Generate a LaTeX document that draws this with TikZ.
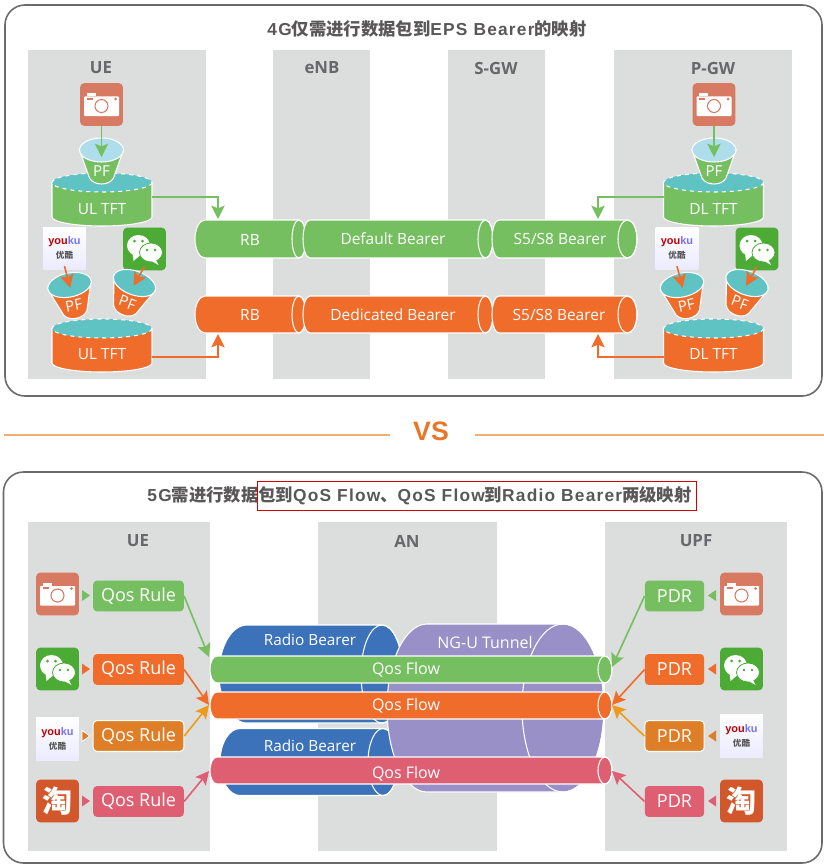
\documentclass[tikz,border=0pt]{standalone}
\usepackage{fontspec}
\setmainfont{Open Sans}
\newfontfamily\cjk{Noto Sans CJK SC}
\newfontfamily\titlefont[LetterSpace=7]{Liberation Sans}
\newfontfamily\plainhead{Liberation Sans}
\usetikzlibrary{arrows.meta,calc}
\definecolor{panelgray}{HTML}{DCDDDD}
\definecolor{framegray}{HTML}{6B6B6B}
\definecolor{textgray}{HTML}{595757}
\definecolor{headgray}{HTML}{66686A}
\definecolor{flowgreen}{HTML}{75BF60}
\definecolor{floworange}{HTML}{EF6C2B}
\definecolor{flowamber}{HTML}{DE7E26}
\definecolor{arrowamber}{HTML}{EE9B1D}
\definecolor{flowpink}{HTML}{DF5F72}
\definecolor{bearerblue}{HTML}{3B72B9}
\definecolor{tunnelpurple}{HTML}{9890C6}
\definecolor{topteal}{HTML}{5FC2C3}
\definecolor{toplight}{HTML}{AEDDEC}
\definecolor{camcolor}{HTML}{D87962}
\definecolor{wxcolor}{HTML}{4BAB35}
\definecolor{taocolor}{HTML}{D2572B}
\definecolor{vsline}{HTML}{F2AE72}
\definecolor{vscolor}{HTML}{E8772A}
\tikzset
{
  panel/.style={fill=panelgray,draw=none},
  frame/.style={draw=framegray,line width=1.2pt,rounded corners=15pt},
  headlabel/.style={font=\bfseries\fontsize{12.6}{13}\selectfont,text=headgray},
  pipeedge/.style={draw=white,line width=0.8pt},
  pipelabel/.style={font=\fontsize{11.6}{12}\selectfont,text=white},
  iconbox/.style={minimum size=32pt,inner sep=0pt,rounded corners=3pt},
  rulebox/.style={minimum width=68pt,minimum height=23.2pt,inner sep=0pt,rounded corners=3pt,text=white,font=\fontsize{13.5}{14}\selectfont},
  pdrbox/.style={rulebox,minimum width=44.5pt},
  flowarrow/.style={line width=1.2pt,-{Stealth[length=10pt,width=10pt,inset=2pt]}}
}
% tube lying on its side: x1, x2, middle y, y radius, left x radius, right x radius, colour
\newcommand{\hpipe}[7]{
  \filldraw[pipeedge,fill=#7] ({#1+#5},{#3-#4}) -- ({#2-#6},{#3-#4})
    arc[start angle=-90,end angle=90,x radius=#6,y radius=#4]
    -- ({#1+#5},{#3+#4})
    arc[start angle=90,end angle=270,x radius=#5,y radius=#4] -- cycle;
  \draw[pipeedge] ({#2-#6},#3) ellipse[x radius=#6,y radius=#4];
}
% drum: centre x, top ellipse y, lower y, colour
\newcommand{\tftdrum}[4]{
  \filldraw[pipeedge,fill=#4] ({#1-50},#2) -- ({#1-50},#3)
    arc[start angle=180,end angle=0,x radius=50,y radius=9]
    -- ({#1+50},#2) -- cycle;
  \fill[topteal] (#1,#2) ellipse[x radius=50,y radius=9.5];
  \draw[white,line width=0.8pt,dashed] (#1,#2) ellipse[x radius=50,y radius=9.5];
}
% cup: name, x, y, angle, body colour, top colour
\newcommand{\pfcup}[6]{
  \begin{scope}[shift={(#2,#3)},rotate=#4]
    \filldraw[pipeedge,fill=#5] (-22,0) -- (-12,28) .. controls (-8,36) and (8,36) .. (12,28) -- (22,0) -- cycle;
    \filldraw[pipeedge,fill=#6] (0,0) ellipse[x radius=22,y radius=12];
    \node[transform shape,text=white,font=\fontsize{11.3}{12}\selectfont] (#1txt) at (0,21) {PF};
    \coordinate (#1) at (0,3);
  \end{scope}
}
\newcommand{\iconcam}[3]{
  \node[iconbox,fill=camcolor] (#1) at (#2,#3) {};
  \begin{scope}[shift={(#2,#3)}]
    \fill[white,rounded corners=0.6pt] (-17.5,-8) rectangle (17.5,11.5);
    \fill[white] (-15,-11) rectangle (-6,-8);
    \draw[camcolor,line width=0.8pt,fill=white] (0,1.5) circle[radius=6.5];
    \fill[camcolor] (-15,-7) rectangle (-9,-5);
    \fill[camcolor] (14,-5.5) circle[radius=1.5];
  \end{scope}
}
\newcommand{\iconwx}[3]{
  \node[iconbox,fill=wxcolor] (#1) at (#2,#3) {};
  \begin{scope}[shift={(#2,#3)}]
    \fill[white] (-6,-3.5) ellipse[x radius=11.5,y radius=10.5];
    \fill[white] (-12,4) -- (-11,12) -- (-4,6) -- cycle;
    \filldraw[draw=wxcolor,line width=0.6pt,fill=white] (6.5,3.5) ellipse[x radius=11.5,y radius=9.5];
    \fill[white] (11,10) -- (14,16) -- (7,12) -- cycle;
    \fill[wxcolor] (-10,-8) circle[radius=1.5] (-2,-8) circle[radius=1.5] (2.5,1) circle[radius=1.3] (10.5,1) circle[radius=1.3];
  \end{scope}
}
\newcommand{\iconyk}[3]{
  \node[minimum size=32pt,inner sep=0pt,top color=white,bottom color=blue!8] (#1) at (#2,#3) {};
  \node[font=\plainhead\bfseries\fontsize{8.2}{8}\selectfont] (#1txt) at (#2,{#3-6.5}) {\textcolor{red!75!black}{you}\textcolor{blue!55}{ku}};
  \node[font=\cjk\bfseries\fontsize{6.4}{7}\selectfont,text=textgray] (#1zh) at (#2,{#3+7}) {优酷};
}
\newcommand{\icontao}[3]{
  \node[iconbox,fill=taocolor,text=white,font=\cjk\bfseries\fontsize{22.5}{23}\selectfont] (#1) at (#2,#3) {淘};
}
\begin{document}
\begin{tikzpicture}[x=0.75pt,y=-0.75pt]
  \useasboundingbox (0,0) rectangle (824,867);

  % Upper frame and columns
  \draw[frame] (5,5) rectangle (822,396);
  \node[text=textgray,font=\titlefont\bfseries\fontsize{13}{13}\selectfont] (titlefour) at (427,29) {4G\cjk 仅需进行数据包到\titlefont EPS Bearer\cjk 的映射};
  \fill[panel] (28,50) rectangle (206,379);
  \fill[panel] (273,50) rectangle (370,379);
  \fill[panel] (448,50) rectangle (545,379);
  \fill[panel] (614,50) rectangle (792,379);
  \node[headlabel] (ueup) at (101,68) {UE};
  \node[headlabel] (enb) at (322,68) {eNB};
  \node[headlabel] (sgw) at (496,68) {S-GW};
  \node[headlabel] (pgw) at (713,68) {P-GW};

  % Bearers
  \hpipe{195}{306}{239}{19}{10}{7}{flowgreen}
  \hpipe{303}{493}{239}{19}{7}{7.5}{flowgreen}
  \hpipe{492}{637}{239}{19}{7}{9.5}{flowgreen}
  \hpipe{195}{306}{314.5}{18.5}{10}{7}{floworange}
  \hpipe{303}{493}{314.5}{18.5}{7}{7.5}{floworange}
  \hpipe{492}{637}{314.5}{18.5}{7}{9.5}{floworange}
  \node[pipelabel] (rbg) at (250,239.5) {RB};
  \node[pipelabel] (dflt) at (393,239) {Default Bearer};
  \node[pipelabel] (sgg) at (560,239) {S5/S8 Bearer};
  \node[pipelabel] (rbo) at (250,315) {RB};
  \node[pipelabel] (ded) at (393,315) {Dedicated Bearer};
  \node[pipelabel] (sgo) at (559,315) {S5/S8 Bearer};

  % UE side
  \tftdrum{102}{182.5}{217}{flowgreen}
  \tftdrum{102}{328.5}{363}{floworange}
  \node[pipelabel] (ulg) at (102,209) {UL TFT};
  \node[pipelabel] (ulo) at (102,354) {UL TFT};
  \iconcam{camul}{101.5}{104.5}
  \iconyk{ykul}{64.5}{248.5}
  \iconwx{wxul}{144.5}{249}
  \pfcup{pfulg}{101.5}{150}{0}{flowgreen}{toplight}
  \pfcup{pfula}{69.5}{285}{12}{floworange}{topteal}
  \pfcup{pfulb}{134.5}{283}{-20}{floworange}{topteal}
  \draw[flowarrow,flowgreen,shorten >=-3pt] (camul) -- (pfulg);
  \draw[flowarrow,floworange] ([yshift=3pt]ykul.south) -- (pfula);
  \draw[flowarrow,floworange] ([yshift=3pt]wxul.south) -- (pfulb);

  % P-GW side
  \tftdrum{713.5}{182.5}{217}{flowgreen}
  \tftdrum{713.5}{328.5}{363}{floworange}
  \node[pipelabel] (dlg) at (713.5,209) {DL TFT};
  \node[pipelabel] (dlo) at (713.5,354) {DL TFT};
  \iconcam{camdl}{714}{104.5}
  \iconyk{ykdl}{677}{248.5}
  \iconwx{wxdl}{757}{249}
  \pfcup{pfdlg}{714}{150}{0}{flowgreen}{toplight}
  \pfcup{pfdla}{682}{285}{12}{floworange}{topteal}
  \pfcup{pfdlb}{747}{283}{-20}{floworange}{topteal}
  \draw[flowarrow,flowgreen,shorten >=-3pt] (camdl) -- (pfdlg);
  \draw[flowarrow,floworange] ([yshift=3pt]ykdl.south) -- (pfdla);
  \draw[flowarrow,floworange] ([yshift=3pt]wxdl.south) -- (pfdlb);

  % TFT to bearer
  \coordinate (ulgout) at (152,197);
  \coordinate (rbgin) at (218,219);
  \coordinate (uloout) at (152,357);
  \coordinate (rboin) at (218,334);
  \coordinate (dlgout) at (664,197);
  \coordinate (sggin) at (598,219);
  \coordinate (dloout) at (664,357);
  \coordinate (sgoin) at (598,334);
  \draw[flowarrow,flowgreen] (ulgout) -| (rbgin);
  \draw[flowarrow,floworange] (uloout) -| (rboin);
  \draw[flowarrow,flowgreen] (dlgout) -| (sggin);
  \draw[flowarrow,floworange] (dloout) -| (sgoin);

  % VS
  \node[text=vscolor,font=\plainhead\bfseries\fontsize{20}{20}\selectfont] (vs) at (431,431) {VS};
  \coordinate (vsa) at (4,435);
  \coordinate (vsb) at (390,435);
  \coordinate (vsc) at (475,435);
  \coordinate (vsd) at (824,435);
  \draw[vsline,line width=1.1pt] (vsa) -- (vsb);
  \draw[vsline,line width=1.1pt] (vsc) -- (vsd);

  % Lower frame and columns
  \draw[frame] (3.5,472) rectangle (822,863);
  \node[text=textgray,font=\titlefont\bfseries\fontsize{13}{13}\selectfont] (titlefive) at (419.5,496) {5G\cjk 需进行数据包到\titlefont QoS Flow\cjk 、\titlefont QoS Flow\cjk 到\titlefont Radio Bearer\cjk 两级映射};
  \draw[red!85!black,line width=0.6pt] (257,481) rectangle (696,510);
  \fill[panel] (28,522) rectangle (210,851);
  \fill[panel] (318,522) rectangle (497,851);
  \fill[panel] (605,522) rectangle (787,851);
  \node[headlabel] (uelow) at (138,541) {UE};
  \node[headlabel] (an) at (407,541) {AN};
  \node[headlabel] (upf) at (696,541) {UPF};

  % Tubes
  \hpipe{219}{403}{674}{49}{28}{21}{bearerblue}
  \hpipe{220}{398}{762}{33.5}{20}{15}{bearerblue}
  \hpipe{387}{604}{708}{84}{40}{41}{tunnelpurple}
  \node[pipelabel,font=\fontsize{11.5}{12}\selectfont] (rba) at (310,640) {Radio Bearer};
  \node[pipelabel,font=\fontsize{11.5}{12}\selectfont] (rbb) at (310,746) {Radio Bearer};
  \node[pipelabel,font=\fontsize{12}{12}\selectfont] (ngu) at (485,642.5) {NG-U Tunnel};
  \hpipe{210}{612}{669.5}{13.5}{7}{7}{flowgreen}
  \hpipe{210}{612}{705.5}{13.5}{7}{7}{floworange}
  \hpipe{210}{612}{770.5}{13.5}{7}{7}{flowpink}
  \node[pipelabel,font=\fontsize{12}{12}\selectfont] (qfa) at (406,670) {Qos Flow};
  \node[pipelabel,font=\fontsize{12}{12}\selectfont] (qfb) at (406,706) {Qos Flow};
  \node[pipelabel,font=\fontsize{12}{12}\selectfont] (qfc) at (406,774) {Qos Flow};

  % UE rules
  \iconcam{camue}{57.5}{594}
  \iconwx{wxue}{57.5}{669}
  \iconyk{ykue}{57.5}{739}
  \icontao{taoue}{57.5}{801}
  \node[rulebox,fill=flowgreen] (rulea) at (138.5,596) {Qos Rule};
  \node[rulebox,fill=floworange] (ruleb) at (138.5,669.5) {Qos Rule};
  \node[rulebox,fill=flowamber,draw=white,line width=0.8pt] (rulec) at (138.5,736) {Qos Rule};
  \node[rulebox,fill=flowpink] (ruled) at (138.5,801.5) {Qos Rule};
  \fill[flowgreen] (82,590) -- (90,595.5) -- (82,601) -- cycle;
  \fill[floworange] (82,663.5) -- (90,669) -- (82,674.5) -- cycle;
  \filldraw[draw=white,line width=0.6pt,fill=flowamber] (82,730.5) -- (90,736) -- (82,741.5) -- cycle;
  \fill[flowpink] (82,795.5) -- (90,801) -- (82,806.5) -- cycle;

  % UPF rules
  \iconcam{camup}{741.5}{594}
  \iconwx{wxup}{741.5}{669}
  \iconyk{ykup}{741.5}{736}
  \icontao{taoup}{741.5}{801}
  \node[pdrbox,fill=flowgreen] (pdra) at (674.5,596) {PDR};
  \node[pdrbox,fill=floworange] (pdrb) at (674.5,669.5) {PDR};
  \node[pdrbox,fill=flowamber,draw=white,line width=0.8pt] (pdrc) at (674.5,736) {PDR};
  \node[pdrbox,fill=flowpink] (pdrd) at (674.5,801.5) {PDR};
  \fill[flowgreen] (716,590) -- (708,595.5) -- (716,601) -- cycle;
  \fill[floworange] (716,663.5) -- (708,669) -- (716,674.5) -- cycle;
  \fill[flowamber] (716,730.5) -- (708,736) -- (716,741.5) -- cycle;
  \fill[flowpink] (716,795.5) -- (708,801) -- (716,806.5) -- cycle;

  % Rule to flow
  \coordinate (qfain) at (209,657);
  \coordinate (qfbin) at (209,705);
  \coordinate (qfcin) at (209,771);
  \coordinate (qfaout) at (612,667);
  \coordinate (qfbout) at (612,705);
  \coordinate (qfcout) at (612,771);
  \draw[flowarrow,flowgreen] (rulea.east) -- (qfain);
  \draw[flowarrow,floworange] (ruleb.east) -- (qfbin);
  \draw[flowarrow,arrowamber] (rulec.east) -- (qfbin);
  \draw[flowarrow,flowpink] (ruled.east) -- (qfcin);
  \draw[flowarrow,flowgreen] (pdra.west) -- (qfaout);
  \draw[flowarrow,floworange] (pdrb.west) -- (qfbout);
  \draw[flowarrow,arrowamber] (pdrc.west) -- (qfbout);
  \draw[flowarrow,flowpink] (pdrd.west) -- (qfcout);
\end{tikzpicture}
\end{document}
